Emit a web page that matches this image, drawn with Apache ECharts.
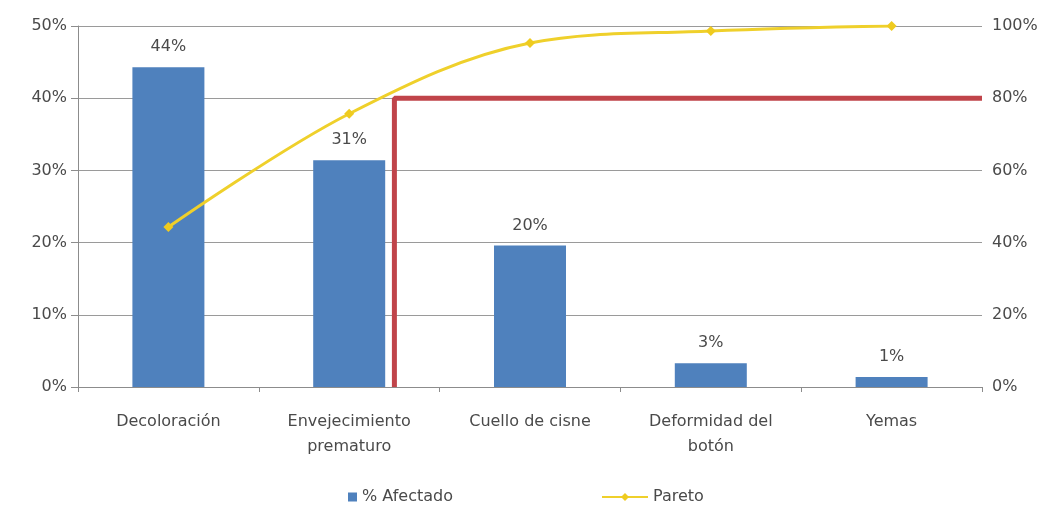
<!DOCTYPE html>
<html><head><meta charset="utf-8">
<script src="https://cdn.jsdelivr.net/npm/echarts@6/dist/echarts.min.js"></script>
<style>html,body{margin:0;padding:0;background:#fff}#c{width:1050px;height:509px}</style>
</head><body><div id="c"></div>
<script>
var categories = ['Decoloración', 'Envejecimiento\nprematuro', 'Cuello de cisne', 'Deformidad del\nbotón', 'Yemas'];
var afectado = [44.3, 31.4, 19.6, 3.3, 1.4];
var pareto = [44.3, 75.7, 95.3, 98.6, 100];
var leftTicks = [0, 10, 20, 30, 40, 50];
var rightTicks = [0, 20, 40, 60, 80, 100];
var cutLine = [[1.25, 0], [1.25, 80], [4.5, 80]];

var font = 'DejaVu Sans, sans-serif';
var txt = '#4a4a4a';
var chart = echarts.init(document.getElementById('c'));
chart.setOption({
  animation: false,
  grid: {left: 78, right: 68, top: 26, bottom: 122},
  legend: [{
    top: 484, left: 343, itemWidth: 9, itemHeight: 9, itemGap: 6,
    textStyle: {color: txt, fontSize: 16, fontFamily: font},
    data: [{name: '% Afectado', icon: 'rect', itemStyle: {color: '#4F81BD'}}]
  }, {
    top: 484, left: 596, itemWidth: 46, itemHeight: 10,
    textStyle: {color: txt, fontSize: 16, fontFamily: font},
    data: [{name: 'Pareto'}]
  }],
  xAxis: [{
    type: 'category', data: categories,
    axisLine: {lineStyle: {color: '#8c8c8c'}},
    axisTick: {show: true, lineStyle: {color: '#8c8c8c'}},
    axisLabel: {color: txt, fontSize: 16, fontFamily: font, margin: 22, lineHeight: 25, interval: 0}
  }, {
    type: 'value', min: -0.5, max: 4.5, show: false
  }],
  yAxis: [{
    type: 'value', min: leftTicks[0], max: leftTicks[leftTicks.length - 1], interval: 10,
    axisLine: {show: true, onZero: false, lineStyle: {color: '#8c8c8c'}},
    axisTick: {show: true, length: 7, lineStyle: {color: '#8c8c8c'}},
    splitLine: {lineStyle: {color: '#9a9a9a'}},
    axisLabel: {color: txt, fontSize: 16, fontFamily: font, margin: 11, formatter: '{value}%'}
  }, {
    type: 'value', min: rightTicks[0], max: rightTicks[rightTicks.length - 1], interval: 20,
    axisLine: {show: false, onZero: false},
    axisTick: {show: false},
    splitLine: {show: false},
    axisLabel: {color: txt, fontSize: 16, fontFamily: font, margin: 10, formatter: '{value}%'}
  }],
  series: [{
    name: '% Afectado', type: 'bar', data: afectado, barWidth: 72,
    itemStyle: {color: '#4F81BD'},
    label: {show: true, position: 'top', distance: 12, color: txt, fontSize: 16, fontFamily: font,
      formatter: function (p) { return Math.round(p.value) + '%'; }}
  }, {
    name: 'Pareto', type: 'line', yAxisIndex: 1, data: pareto, smooth: 0.35,
    symbol: 'diamond', symbolSize: 10,
    lineStyle: {color: '#EFD02B', width: 3},
    itemStyle: {color: '#EFCB1F'}
  }, {
    name: 'Corte', type: 'line', xAxisIndex: 1, yAxisIndex: 1, data: cutLine,
    symbol: 'none', lineStyle: {color: '#C0444A', width: 5}, z: 1
  }]
});
</script></body></html>
